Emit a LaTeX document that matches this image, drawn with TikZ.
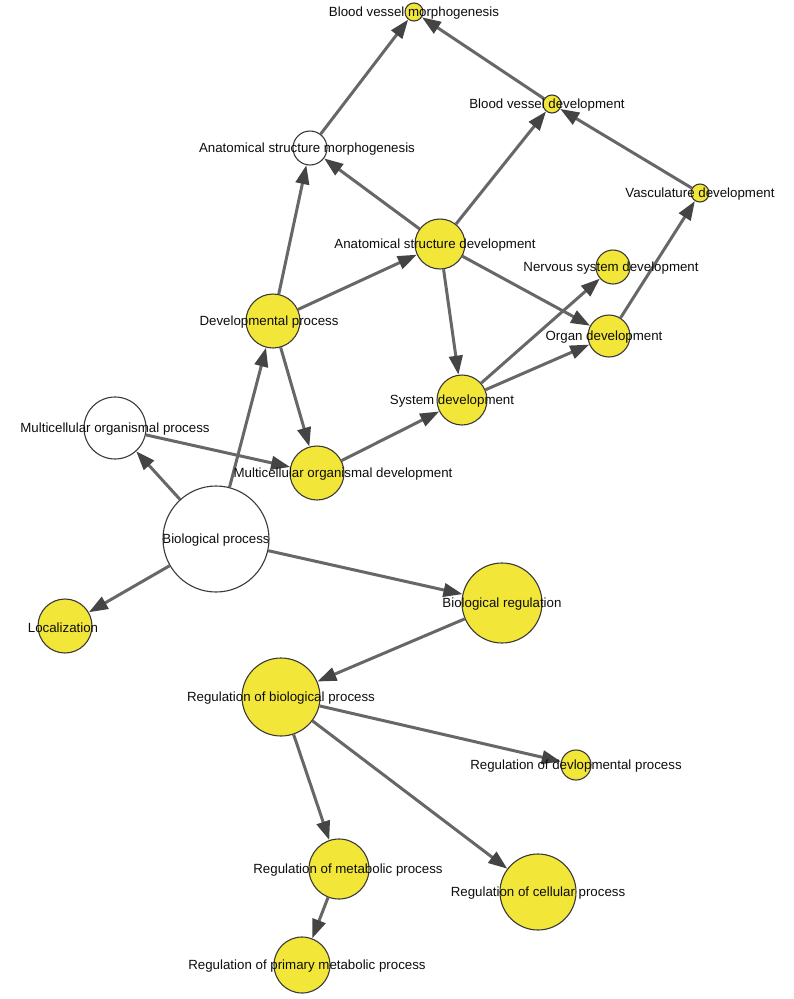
\documentclass[tikz,border=0pt]{standalone}
\usepackage{fontspec}
\setmainfont{Liberation Sans}
\usepackage{tikz}
\usetikzlibrary{arrows.meta, calc}
\usepackage{xcolor}
\definecolor{GOYellow}{HTML}{F2E639}
\definecolor{GOBorder}{HTML}{3A3A3A}
\definecolor{GOEdge}{HTML}{676767}
\definecolor{GOHead}{HTML}{444444}

\tikzset{
  term/.style={circle, draw=GOBorder, line width=1.1pt, inner sep=0pt, minimum size=#1},
  lbl/.style={font=\fontsize{13.3}{15}\selectfont, text=black!95, inner sep=0pt},
  link/.style={draw=GOEdge, line width=3pt, -{Triangle[length=19pt,width=13.5pt,color=GOHead]}}
}

\begin{document}
\begin{tikzpicture}[x=1pt, y=-1pt]
  \useasboundingbox (0,0) rectangle (793,999);

  % Termos GO
  \foreach \name/\x/\y/\d/\c in {
      bvm/414/12/18/GOYellow, bvd/552/104/18/GOYellow, asm/310/148/34/white,
      vd/700/193/18/GOYellow, asd/440/244/50/GOYellow, nsd/613/267/34/GOYellow,
      dp/273/321/54/GOYellow, od/609/336/42/GOYellow, sd/462/400/50/GOYellow,
      mop/115/428/62/white, mod/317/473/54/GOYellow, bp/216/539/106/white,
      br/502/603/80/GOYellow, loc/65/626/54/GOYellow, rbp/281/697/78/GOYellow,
      rdp/576/765/30/GOYellow, rmp/339/869/60/GOYellow, rcp/538/892/76/GOYellow,
      rpmp/302/965/56/GOYellow} {
    \node[term=\d pt, fill=\c] (\name) at (\x,\y) {};
  }

  % Relacoes
  \foreach \a/\b in {asm/bvm, bvd/bvm, vd/bvd, asd/bvd, asd/asm, dp/asm,
      dp/asd, asd/sd, asd/od, od/vd, sd/nsd, sd/od, dp/mod, mod/sd,
      mop/mod, bp/mop, bp/dp, bp/loc, bp/br, br/rbp, rbp/rdp, rbp/rmp,
      rbp/rcp, rmp/rpmp} {
    \draw[link] (\a) -- (\b);
  }

  % Rotulos
  \foreach \name/\dx/\txt in {
      bvm/0/Blood vessel morphogenesis, bvd/-5/Blood vessel development,
      asm/-3/Anatomical structure morphogenesis, vd/0/Vasculature development,
      asd/-5/Anatomical structure development, nsd/-2/Nervous system development,
      dp/-4/Developmental process, od/-5/Organ development,
      sd/-10/System development, mop/0/Multicellular organismal process,
      mod/26/Multicellular organismal development, bp/0/Biological process,
      br/0/Biological regulation, loc/-2/Localization,
      rbp/0/Regulation of biological process, rdp/0/Regulation of devlopmental process,
      rmp/9/Regulation of metabolic process, rcp/0/Regulation of cellular process,
      rpmp/5/Regulation of primary metabolic process} {
    \node[lbl] (\name-l) at ([xshift=\dx pt, yshift=-1.5pt]\name) {\txt};
  }
\end{tikzpicture}
\end{document}
